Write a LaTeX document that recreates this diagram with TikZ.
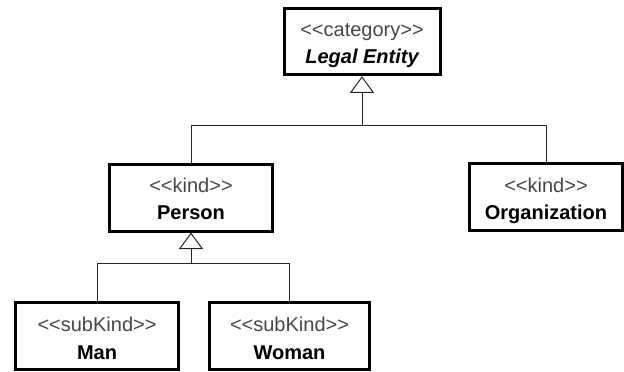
\documentclass[tikz,border=0pt]{standalone}
\usepackage{fontspec}
\setmainfont[Ligatures=NoCommon]{Liberation Sans}
\usetikzlibrary{arrows.meta,calc}
\newcommand{\stereotag}[1]{<{}<#1>{}>}
\begin{document}
\begin{tikzpicture}[x=1pt,y=-1pt,
  cls/.style={draw=black, line width=3pt, fill=white, inner sep=0pt,
    minimum width=#1, minimum height=66.5pt},
  stereo/.style={anchor=base, inner sep=0pt, text=black!72,
    font=\fontsize{20}{24}\selectfont},
  cname/.style={anchor=base, inner sep=0pt, text=black,
    font=\fontsize{20}{24}\selectfont\bfseries},
  conn/.style={draw=black!85, line width=1pt},
  gen/.style={conn, -{Triangle[open, length=16.5pt, width=24pt]}}
]
\useasboundingbox (0,0) rectangle (624,372);

% boxes
\node[cls=156pt] (legal)  at (362,41.5) {};
\node[cls=163pt] (person) at (191,197.75) {};
\node[cls=153pt] (org)    at (546,197) {};
\node[cls=163pt] (man)    at (97,336) {};
\node[cls=160pt] (woman)  at (289.5,336) {};

% texts
\node[stereo] (legalS)  at ([yshift=5pt]legal.center) {\stereotag{category}};
\node[cname]  (legalN)  at ([yshift=-22pt]legal.center) {\itshape Legal Entity};
\node[stereo] (personS) at ([yshift=5pt]person.center) {\stereotag{kind}};
\node[cname]  (personN) at ([yshift=-22pt]person.center) {Person};
\node[stereo] (orgS)    at ([yshift=5pt]org.center) {\stereotag{kind}};
\node[cname]  (orgN)    at ([yshift=-22pt]org.center) {Organization};
\node[stereo] (manS)    at ([yshift=5pt]man.center) {\stereotag{subKind}};
\node[cname]  (manN)    at ([yshift=-23pt]man.center) {Man};
\node[stereo] (womanS)  at ([yshift=5pt]woman.center) {\stereotag{subKind}};
\node[cname]  (womanN)  at ([yshift=-23pt]woman.center) {Woman};

% junctions
\coordinate (lj) at (legal.south |- 0,125);
\coordinate (pj) at (person.south |- 0,263);

% generalization: Person, Organization -> Legal Entity
\draw[conn] (person.north) -- (person.north |- lj) -- (org.north |- lj) -- (org.north);
\draw[gen] (lj) -- (legal.south);

% generalization: Man, Woman -> Person
\draw[conn] (man.north) -- (man.north |- pj) -- (woman.north |- pj) -- (woman.north);
\draw[gen] (pj) -- (person.south);
\end{tikzpicture}
\end{document}
